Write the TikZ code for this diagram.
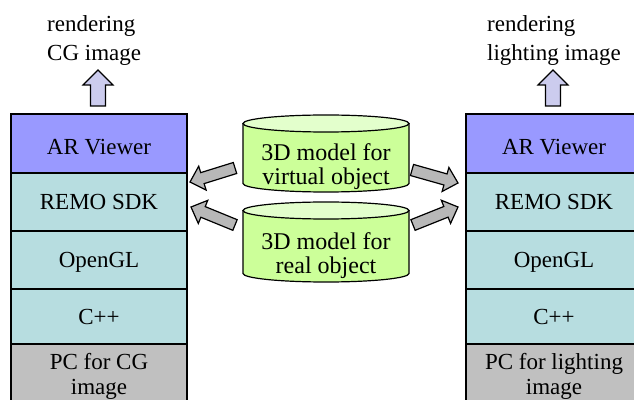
\documentclass[tikz,border=0pt]{standalone}
\usepackage{fontspec}
\setmainfont{Liberation Serif}
\usetikzlibrary{calc}
\definecolor{arviewer}{HTML}{9999FF}
\definecolor{layercyan}{HTML}{B7DDE0}
\definecolor{pcgray}{HTML}{C0C0C0}
\definecolor{cylbody}{HTML}{CCFF99}
\definecolor{cyltop}{HTML}{E3FFCC}
\definecolor{uparrowfill}{HTML}{CCCCEE}
\definecolor{sidearrowfill}{HTML}{B8B8B8}
\tikzset{
  txt/.style={font=\fontsize{23}{26}\selectfont},
  layer/.style={draw, line width=1.2pt, minimum width=176pt, inner sep=0pt, align=center, txt},
  upblock/.style={draw, line width=1.2pt, fill=uparrowfill, line join=miter},
  sideblock/.style={draw, line width=1.2pt, fill=sidearrowfill, line join=miter},
  cyltext/.style={align=center, inner sep=0pt, font=\fontsize{24}{24}\selectfont},
}
% #1 style, #2 tail, #3 tip, #4 shaft half width, #5 head half width, #6 head length
\newcommand\blockarrow[6]{%
  \path[#1] let \p1=(#2), \p2=(#3), \n1={atan2(\y2-\y1,\x2-\x1)},
      \p3=($(\p2)+({\n1+180}:#6pt)$) in
    ($(\p1)+({\n1+90}:#4pt)$) -- ($(\p3)+({\n1+90}:#4pt)$) -- ($(\p3)+({\n1+90}:#5pt)$)
    -- (\p2) -- ($(\p3)+({\n1-90}:#5pt)$) -- ($(\p3)+({\n1-90}:#4pt)$)
    -- ($(\p1)+({\n1-90}:#4pt)$) -- cycle;}
\newcommand\drawcyl[3]{% center x, top-ellipse centre y, bottom-ellipse centre y
  \fill[cylbody] ({#1-83},#2) -- ({#1-83},#3) arc[start angle=180,end angle=360,x radius=83,y radius=8.5] -- ({#1+83},#2) -- cycle;
  \draw[line width=1.2pt] ({#1-83},#2) -- ({#1-83},#3) arc[start angle=180,end angle=360,x radius=83,y radius=8.5] -- ({#1+83},#2);
  \filldraw[fill=cyltop, line width=1.2pt] (#1,#2) ellipse[x radius=83, y radius=8.5];}
\begin{document}
\begin{tikzpicture}[x=1pt,y=1pt]
\useasboundingbox (0,0) rectangle (634,399);
\clip (0,0) rectangle (634,399);
% left stack
\node[layer, fill=arviewer, minimum height=59pt, text height=22pt] (lAR) at (99,255.5) {AR Viewer};
\node[layer, fill=layercyan, minimum height=58pt] (lREMO) at (99,197) {REMO SDK};
\node[layer, fill=layercyan, minimum height=58pt, text height=20pt] (lGL) at (99,139) {OpenGL};
\node[layer, fill=layercyan, minimum height=55pt] (lCPP) at (99,82.5) {C++};
\node[layer, fill=pcgray, minimum height=65pt] (lPC) at (99,22.5) {PC for CG\\[-1pt]image};
% right stack
\node[layer, fill=arviewer, minimum height=59pt, text height=22pt] (rAR) at (554,255.5) {AR Viewer};
\node[layer, fill=layercyan, minimum height=58pt] (rREMO) at (554,197) {REMO SDK};
\node[layer, fill=layercyan, minimum height=58pt, text height=20pt] (rGL) at (554,139) {OpenGL};
\node[layer, fill=layercyan, minimum height=55pt] (rCPP) at (554,82.5) {C++};
\node[layer, fill=pcgray, minimum height=65pt] (rPC) at (554,22.5) {PC for lighting\\[-1pt]image};
% output labels
\node[txt, anchor=base west, inner sep=0pt] (lOut1) at (47,367.5) {rendering};
\node[txt, anchor=base west, inner sep=0pt] (lOut2) at (47,338.5) {CG image};
\node[txt, anchor=base west, inner sep=0pt] (rOut1) at (487,367.5) {rendering};
\node[txt, anchor=base west, inner sep=0pt] (rOut2) at (487,338.5) {lighting image};
% up arrows
\coordinate (lUpS) at (98,293);
\coordinate (lUpE) at (98,329);
\coordinate (rUpS) at (553,293);
\coordinate (rUpE) at (553,329);
\blockarrow{upblock}{lUpS}{lUpE}{7.5}{15}{15}
\blockarrow{upblock}{rUpS}{rUpE}{7.5}{15}{15}
% cylinders
\drawcyl{326}{275.5}{215.5}
\drawcyl{326}{188.5}{125.5}
\node[cyltext] (cylA) at (326,232) {3D model for\\virtual object};
\node[cyltext] (cylB) at (326,143) {3D model for\\real object};
% side arrows
\coordinate (ulS) at (235,231); \coordinate (ulE) at (190,217);
\coordinate (llS) at (235,174); \coordinate (llE) at (191,192);
\coordinate (urS) at (412,229); \coordinate (urE) at (458,216);
\coordinate (lrS) at (413,174); \coordinate (lrE) at (458,192);
\blockarrow{sideblock}{ulS}{ulE}{5.75}{12.5}{13}
\blockarrow{sideblock}{llS}{llE}{5.75}{12.5}{13}
\blockarrow{sideblock}{urS}{urE}{5.75}{12.5}{13}
\blockarrow{sideblock}{lrS}{lrE}{5.75}{12.5}{13}
\end{tikzpicture}
\end{document}
